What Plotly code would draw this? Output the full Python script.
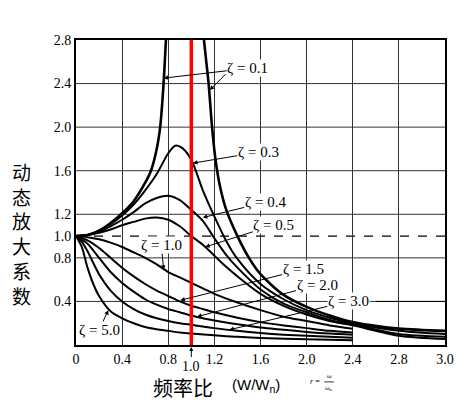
import plotly.graph_objects as go

# frequency ratio r = w/wn  and dynamic amplification factor
R_01_LEFT = [0, 0.1, 0.2, 0.3, 0.4, 0.5, 0.6, 0.65, 0.7, 0.73, 0.75, 0.765, 0.775, 0.785]
D_01_LEFT = [1.0, 1.01, 1.05, 1.12, 1.21, 1.32, 1.49, 1.6, 1.8, 2.0, 2.25, 2.5, 2.7, 2.9]
R_01_RIGHT = [1.105, 1.11, 1.13, 1.15, 1.18, 1.21, 1.25, 1.3, 1.4, 1.5, 1.6, 1.8, 2.0, 2.2, 2.4, 2.8, 3.2]
D_01_RIGHT = [2.9, 2.8, 2.6, 2.4, 2.0, 1.7, 1.45, 1.25, 1.0, 0.8, 0.65, 0.46, 0.35, 0.27, 0.21, 0.15, 0.13]

R_03 = [0, 0.1, 0.2, 0.3, 0.4, 0.5, 0.6, 0.7, 0.8, 0.86, 0.92, 1.0, 1.1, 1.2, 1.3, 1.4, 1.6, 1.8, 2.0, 2.2, 2.4, 2.8, 3.2]
D_03 = [1.0, 1.01, 1.05, 1.11, 1.19, 1.29, 1.42, 1.57, 1.76, 1.83, 1.81, 1.7, 1.42, 1.18, 0.96, 0.79, 0.56, 0.42, 0.32, 0.25, 0.2, 0.13, 0.1]

R_LOW = [0, 0.1, 0.2, 0.3, 0.4, 0.5, 0.6, 0.7, 0.8, 0.9, 1.0, 1.1, 1.2, 1.3, 1.4, 1.6, 1.8, 2.0, 2.2, 2.4, 2.8, 3.2]
D_04 = [1.0, 1.01, 1.04, 1.09, 1.15, 1.22, 1.3, 1.35, 1.37, 1.33, 1.24, 1.14, 0.98, 0.83, 0.71, 0.51, 0.38, 0.3, 0.23, 0.19, 0.1, 0.075]
D_05 = [1.0, 1.01, 1.03, 1.06, 1.1, 1.13, 1.16, 1.17, 1.15, 1.09, 1.0, 0.92, 0.82, 0.72, 0.63, 0.47, 0.36, 0.28, 0.22, 0.18, 0.085, 0.055]

R_HIGH = [0, 0.1, 0.2, 0.3, 0.4, 0.5, 0.6, 0.7, 0.8, 0.9, 1.0, 1.1, 1.2, 1.4, 1.6, 1.8, 2.0, 2.2, 2.4]
D_10 = [1.0, 0.99, 0.97, 0.94, 0.9, 0.85, 0.8, 0.74, 0.67, 0.62, 0.57, 0.52, 0.47, 0.39, 0.32, 0.26, 0.22, 0.18, 0.15]
D_15 = [1.0, 0.96, 0.89, 0.8, 0.71, 0.63, 0.56, 0.5, 0.45, 0.4, 0.36, 0.33, 0.3, 0.25, 0.21, 0.18, 0.155, 0.13, 0.115]
D_20 = [1.0, 0.93, 0.8, 0.67, 0.57, 0.49, 0.42, 0.37, 0.33, 0.3, 0.27, 0.245, 0.225, 0.19, 0.16, 0.14, 0.12, 0.105, 0.095]

R_30 = [0, 0.05, 0.1, 0.2, 0.3, 0.4, 0.5, 0.6, 0.7, 0.8, 0.9, 1.0, 1.1, 1.2, 1.4, 1.6, 1.8, 2.0, 2.2, 2.4]
D_30 = [1.0, 0.95, 0.86, 0.65, 0.5, 0.4, 0.33, 0.28, 0.245, 0.22, 0.2, 0.185, 0.17, 0.155, 0.13, 0.11, 0.095, 0.085, 0.075, 0.067]

R_50 = [0, 0.05, 0.1, 0.15, 0.2, 0.3, 0.4, 0.5, 0.6, 0.7, 0.8, 0.9, 1.0, 1.2, 1.4, 1.6, 2.0, 2.4]
D_50 = [1.0, 0.9, 0.71, 0.56, 0.45, 0.31, 0.245, 0.2, 0.165, 0.145, 0.13, 0.115, 0.105, 0.09, 0.075, 0.065, 0.052, 0.043]

X_TICKS = [0, 0.4, 0.8, 1.2, 1.6, 2.0, 2.4, 2.8, 3.2]
X_TICK_TEXT = ["0", "0.4", "0.8", "1.2", "1.6", "2.0", "2.4", "2.8", "3.0"]
Y_TICKS = [0.4, 0.8, 1.0, 1.2, 1.6, 2.0, 2.4, 2.8]
Y_TICK_TEXT = ["0.4", "0.8", "1.0", "1.2", "1.6", "2.0", "2.4", "2.8"]
GRID_Y = [0.4, 0.8, 1.2, 1.6, 2.0, 2.4]
RESONANCE = 1.0

# label text, text centre (r, D), arrow tip (r, D)
ZETA_LABELS = ["ζ = 0.1", "ζ = 0.3", "ζ = 0.4", "ζ = 0.5", "ζ = 1.0", "ζ = 1.5", "ζ = 2.0", "ζ = 3.0", "ζ = 5.0"]
LABEL_POS = [(1.49, 2.54), (1.58, 1.77), (1.64, 1.31), (1.715, 1.10), (0.74, 0.917),
             (1.97, 0.695), (2.09, 0.55), (2.36, 0.40), (0.2, 0.138)]
ARROW_TIP = [(0.76, 2.45), (1.015, 1.67), (1.10, 1.17), (1.12, 0.90), (0.76, 0.69),
             (0.905, 0.41), (1.05, 0.26), (1.33, 0.14), (0.28, 0.32)]

SERIF = "Liberation Serif"
CJK = "Noto Sans CJK SC"

fig = go.Figure()

curves = [
    (R_01_LEFT, D_01_LEFT, 2.6),
    (R_01_RIGHT, D_01_RIGHT, 2.6),
    (R_03, D_03, 2),
    (R_LOW, D_04, 2),
    (R_LOW, D_05, 2),
    (R_HIGH, D_10, 2),
    (R_HIGH, D_15, 2),
    (R_HIGH, D_20, 2),
    (R_30, D_30, 2),
    (R_50, D_50, 2),
]
for r, d, w in curves:
    fig.add_trace(go.Scatter(
        x=r, y=d, mode="lines",
        line=dict(color="black", width=w, shape="spline", smoothing=0.8),
        showlegend=False, hoverinfo="skip"
    ))

# grid lines (the one at 1.0 is dashed)
for g in GRID_Y:
    fig.add_hline(y=g, line=dict(color="#333", width=1), layer="below")
fig.add_hline(y=1.0, line=dict(color="black", width=1.2, dash="dash"), layer="below")

fig.add_vline(x=RESONANCE, line=dict(color="#ff0000", width=3.5))

label_font = dict(family=SERIF, size=15, color="black")
for text, (tx, ty), (px, py) in zip(ZETA_LABELS, LABEL_POS, ARROW_TIP):
    fig.add_annotation(
        x=px, y=py, ax=tx, ay=ty, axref="x", ayref="y", xref="x", yref="y",
        text=text, showarrow=True, arrowhead=2, arrowsize=0.9, arrowwidth=1,
        arrowcolor="black", font=label_font, bgcolor="white", borderpad=0,
        xanchor="center", yanchor="middle"
    )

# second leader of the 0.1 label, to the right branch
fig.add_annotation(x=1.16, y=2.34, ax=1.31, ay=2.5, axref="x", ayref="y",
                   text="", showarrow=True, arrowhead=2, arrowsize=0.9,
                   arrowwidth=1, arrowcolor="black")
# the 3.0 label runs a line to the frame
fig.add_shape(type="line", xref="x", yref="y", x0=2.6, x1=3.2, y0=0.40, y1=0.40,
              line=dict(color="black", width=1))

# resonance marker under the axis
fig.add_annotation(x=RESONANCE, y=0, xref="x", yref="y", ax=0, ay=21,
                   text="1.0", showarrow=True, arrowhead=2, arrowsize=0.8,
                   arrowwidth=1, arrowcolor="black", standoff=2,
                   font=dict(family=SERIF, size=14, color="black"))

# vertical y title, one character per line
fig.add_annotation(x=-0.147, y=0.364, xref="paper", yref="paper",
                   text="<br>".join("动态放大系数"), showarrow=False,
                   xanchor="center", yanchor="middle",
                   font=dict(family=CJK, size=19, color="black"))

# x title
title_bits = [
    (0.291, -0.139, "频率比", dict(family=CJK, size=20, color="black")),
    (0.488, -0.133, "(W/W<sub>n</sub>)", dict(family="Liberation Sans", size=15, color="black")),
    (0.649, -0.121, "<i>r</i> =", dict(family=SERIF, size=8, color="black")),
    (0.686, -0.101, "ω", dict(family=SERIF, size=7, color="black")),
    (0.686, -0.142, "ω<sub>n</sub>", dict(family=SERIF, size=7, color="black")),
]
for bx, by, text, font in title_bits:
    fig.add_annotation(x=bx, y=by, xref="paper", yref="paper", text=text,
                       showarrow=False, xanchor="center", yanchor="middle", font=font)
fig.add_shape(type="line", xref="paper", yref="paper", x0=0.673, x1=0.699,
              y0=-0.121, y1=-0.121, line=dict(color="black", width=0.8))

fig.update_xaxes(
    range=[0, 3.2], tickvals=X_TICKS, ticktext=X_TICK_TEXT,
    showgrid=True, gridcolor="#333", gridwidth=1, zeroline=False,
    showline=True, mirror=True, linecolor="black", linewidth=2, ticks="",
    tickfont=dict(family=SERIF, size=14, color="black")
)
fig.update_yaxes(
    range=[0, 2.8], tickvals=Y_TICKS, ticktext=Y_TICK_TEXT, showgrid=False,
    zeroline=False, showline=True, mirror=True, linecolor="black", linewidth=2,
    ticks="", tickfont=dict(family=SERIF, size=14, color="black")
)
# the page body adds 8px around the figure
fig.update_layout(
    width=458, height=405, autosize=False,
    margin=dict(l=68, r=15, t=32, b=68),
    paper_bgcolor="white", plot_bgcolor="white",
    showlegend=False
)

fig.write_html("out.html")
